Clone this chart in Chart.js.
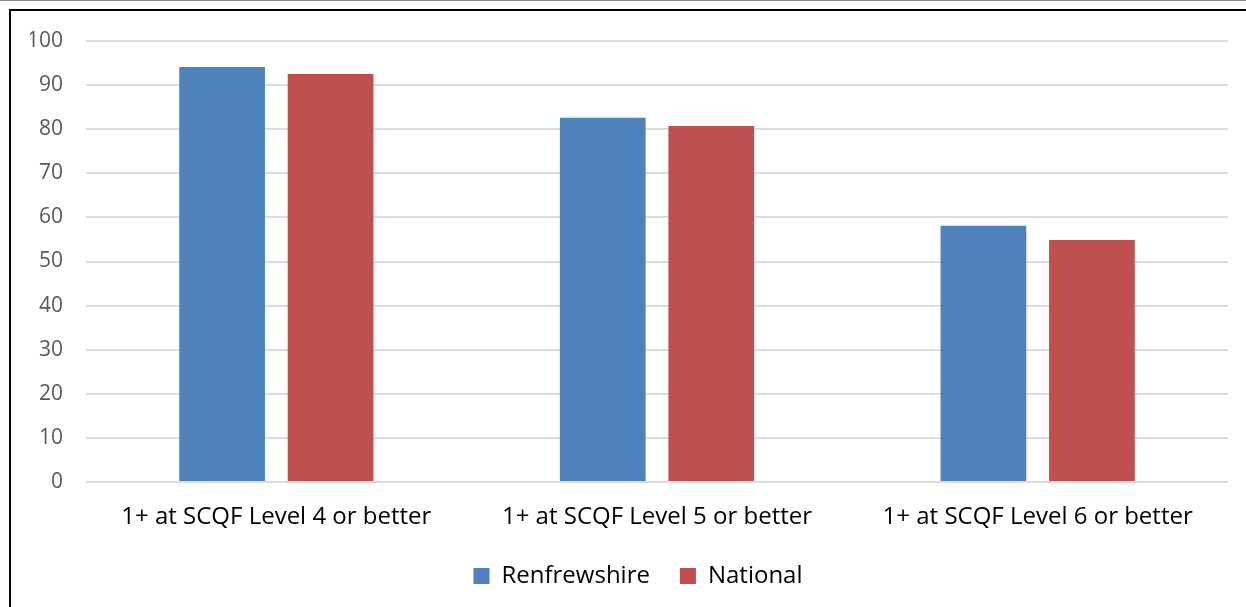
<!DOCTYPE html>
<html>
<head>
<meta charset="utf-8">
<script src="https://cdn.jsdelivr.net/npm/chart.js@4.4.0/dist/chart.umd.min.js"></script>
<style>
    html, body { margin: 0; padding: 0; background: #fff; overflow: hidden; }
    #topline { position: absolute; left: 0; top: 0; width: 1246px; height: 1px; background: #8a8a8a; }
    #frame { position: absolute; left: 9px; top: 9px; width: 1400px; height: 800px; border: 2px solid #000; }
    #wrap { position: absolute; left: 0; top: 0; width: 1246px; height: 607px; }
</style>
</head>
<body>
<div id="topline"></div>
<div id="frame"></div>
<div id="wrap"><canvas id="chart"></canvas></div>
<script>
// categories and series
const categories = [
    '1+ at SCQF Level 4 or better',
    '1+ at SCQF Level 5 or better',
    '1+ at SCQF Level 6 or better',
];
const renfrewshire = [94.1, 82.6, 58.1];
const national = [92.5, 80.7, 54.9];
const seriesNames = ['Renfrewshire', 'National'];

const colors = {
    blue: '#4f81bd',
    red: '#c0504d',
    grid: '#dcdcdc',
    tick: '#595959',
    text: '#000000',
};

const fontFamily = "'Open Sans', 'Liberation Sans', sans-serif";

new Chart(document.getElementById('chart').getContext('2d'), {
    type: 'bar',
    data: {
        labels: categories,
        datasets: [
            {
                label: seriesNames[0],
                data: renfrewshire,
                backgroundColor: colors.blue,
                borderWidth: 0,
                categoryPercentage: 0.57,
                barPercentage: 0.79,
            },
            {
                label: seriesNames[1],
                data: national,
                backgroundColor: colors.red,
                borderWidth: 0,
                categoryPercentage: 0.57,
                barPercentage: 0.79,
            },
        ],
    },
    options: {
        responsive: true,
        maintainAspectRatio: false,
        animation: false,
        layout: { padding: { left: 30, right: 0, top: 41, bottom: 9 } },
        plugins: {
            tooltip: { enabled: false },
            legend: {
                position: 'bottom',
                labels: {
                    color: colors.text,
                    font: { family: fontFamily, size: 24 },
                    boxWidth: 16,
                    boxHeight: 16,
                    padding: 30,
                },
            },
        },
        scales: {
            x: {
                grid: { display: false, drawTicks: false },
                border: { display: false },
                ticks: {
                    color: colors.text,
                    font: { family: fontFamily, size: 24 },
                    padding: 21,
                    maxRotation: 0,
                },
                afterFit: s => { s.height = 52; },
            },
            y: {
                min: 0,
                max: 100,
                grid: { color: colors.grid, lineWidth: 2, drawTicks: false },
                border: { display: false },
                ticks: {
                    stepSize: 10,
                    color: colors.tick,
                    font: { family: fontFamily, size: 21 },
                    padding: 23,
                },
                afterFit: s => { s.width = 56; },
            },
            // empty right-hand gutter so the legend centres as in the original
            gutter: {
                axis: 'y',
                position: 'right',
                grid: { display: false, drawTicks: false },
                border: { display: false },
                ticks: { display: false },
                afterFit: s => { s.width = 18; },
            },
        },
    },
});
</script>
</body>
</html>
